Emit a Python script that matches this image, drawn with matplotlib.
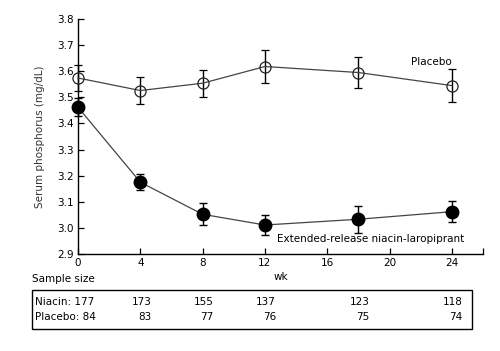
import matplotlib
matplotlib.use("Agg")
import matplotlib.pyplot as plt
from matplotlib.patches import Rectangle
import matplotlib.transforms as mtransforms

weeks = [0, 4, 8, 12, 18, 24]
placebo = [3.574, 3.526, 3.554, 3.618, 3.595, 3.545]
placebo_err = [0.05, 0.05, 0.051, 0.062, 0.06, 0.062]
niacin = [3.462, 3.175, 3.052, 3.011, 3.033, 3.062]
niacin_err = [0.035, 0.03, 0.042, 0.04, 0.052, 0.04]
xticks = [0, 4, 8, 12, 16, 20, 24]
yticks = [2.9, 3.0, 3.1, 3.2, 3.3, 3.4, 3.5, 3.6, 3.7, 3.8]
niacin_n = [177, 173, 155, 137, 123, 118]
placebo_n = [84, 83, 77, 76, 75, 74]

plt.rcParams['font.family'] = ['DejaVu Sans']
fs = 7.5

fig = plt.figure(figsize=(5.0, 3.51), dpi=100)
ax = fig.add_axes([0.156, 0.2764, 0.81, 0.6695])

lc = '#444444'
ax.errorbar(weeks, placebo, yerr=placebo_err, color=lc, lw=0.9, marker='o',
            ms=8, mfc='none', mec='#222222', mew=0.9, ecolor='black',
            elinewidth=1.0, capsize=3, capthick=1.0, clip_on=False, zorder=3)
ax.errorbar(weeks, niacin, yerr=niacin_err, color=lc, lw=0.9, marker='o',
            ms=9, mfc='black', mec='black', ecolor='black',
            elinewidth=1.0, capsize=3, capthick=1.0, clip_on=False, zorder=3)

ax.set_xlim(0, 26)
ax.set_ylim(2.9, 3.8)
ax.set_xticks(xticks + [26])
ax.set_xticklabels([str(t) for t in xticks] + [''], fontsize=fs)
ax.set_yticks(yticks)
ax.set_yticklabels([f"{v:.1f}" for v in yticks], fontsize=fs)
ax.tick_params(direction='in', length=4, width=0.9, colors='black', pad=3)
for s in ['top', 'right']:
    ax.spines[s].set_visible(False)
for s in ['left', 'bottom']:
    ax.spines[s].set_linewidth(1.0)
ax.set_ylabel('Serum phosphorus (mg/dL)', fontsize=fs, color='#333333', labelpad=9)
ax.set_xlabel('wk', fontsize=fs, labelpad=3)

ax.text(24, 3.636, 'Placebo', fontsize=fs, ha='right', va='center')
ax.text(24.8, 2.957, 'Extended-release niacin-laropiprant', fontsize=fs,
        ha='right', va='center')

fig.text(32/500, 1-279/351, 'Sample size', fontsize=fs, va='center', ha='left')
fig.patches.append(Rectangle((32/500, 1-329/351), 440/500, 39/351,
                             transform=fig.transFigure, fill=False,
                             ec='black', lw=1.0))

y1 = 1 - 302/351
y2 = 1 - 317/351
fig.text(35/500, y1, f'Niacin: {niacin_n[0]}', fontsize=fs, va='center')
fig.text(35/500, y2, f'Placebo: {placebo_n[0]}', fontsize=fs, va='center')
trans = mtransforms.blended_transform_factory(ax.transData, fig.transFigure)
off = mtransforms.ScaledTranslation(11/100, 0, fig.dpi_scale_trans)
for w, a, b in zip(weeks[1:], niacin_n[1:], placebo_n[1:]):
    fig.text(w, y1, str(a), fontsize=fs, va='center', ha='right', transform=trans + off)
    fig.text(w, y2, str(b), fontsize=fs, va='center', ha='right', transform=trans + off)

fig.savefig('out.png', dpi=100)
